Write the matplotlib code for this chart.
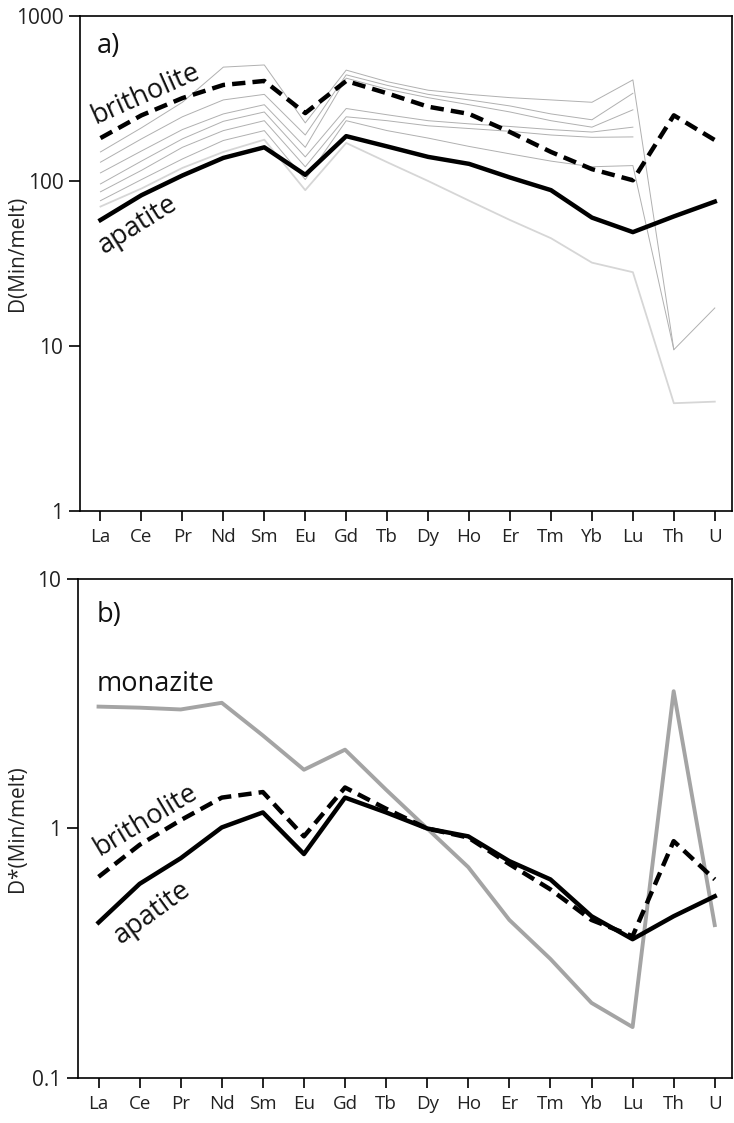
import numpy as np
import matplotlib.pyplot as plt

plt.rcParams['font.family'] = ['Open Sans', 'DejaVu Sans']

elements = ['La', 'Ce', 'Pr', 'Nd', 'Sm', 'Eu', 'Gd', 'Tb', 'Dy', 'Ho',
            'Er', 'Tm', 'Yb', 'Lu', 'Th', 'U']
nan = np.nan

# panel a) partition coefficients D(Min/melt)
apatite_a = [58, 82, 108, 138, 160, 109, 187, 162, 140, 127, 105, 88, 60, 49, 61, 75]
britholite_a = [182, 250, 318, 382, 404, 258, 404, 340, 282, 255, 198, 150, 118, 101, 250, 177]

# thin grey lines (individual experiments)
grey_a = [
    [150, 210, 300, 490, 505, 225, 470, 400, 355, 335, 320, 310, 300, 410, 9.5, 17],
    [130, 180, 245, 310, 335, 190, 440, 380, 335, 310, 285, 255, 235, 340, nan, nan],
    [112, 152, 205, 255, 290, 160, 420, 360, 320, 290, 262, 232, 212, 270, nan, nan],
    [96, 132, 180, 230, 262, 140, 275, 252, 232, 222, 214, 205, 198, 212, nan, nan],
    [86, 116, 160, 202, 232, 122, 245, 232, 216, 208, 200, 190, 184, 185, nan, nan],
    [76, 102, 136, 176, 202, 102, 232, 202, 182, 162, 146, 132, 122, 124, 9.5, nan],
]
faint_a = [70, 90, 120, 150, 178, 88, 170, 130, 100, 76, 58, 45, 32, 28, 4.5, 4.6]

# panel b) normalised D*(Min/melt)
apatite_b = [0.42, 0.60, 0.76, 1.01, 1.16, 0.79, 1.33, 1.16, 1.0, 0.93, 0.74, 0.625, 0.445, 0.36, 0.445, 0.535]
britholite_b = [0.64, 0.86, 1.08, 1.33, 1.40, 0.93, 1.46, 1.20, 1.0, 0.92, 0.72, 0.57, 0.43, 0.37, 0.89, 0.625]
monazite_b = [3.08, 3.05, 3.0, 3.19, 2.36, 1.72, 2.07, 1.43, 1.0, 0.70, 0.43, 0.30, 0.20, 0.16, 3.55, 0.41]

x = np.arange(len(elements))
W, H = 734, 1123

fig = plt.figure(figsize=(W / 100, H / 100), dpi=100)
ax1 = fig.add_axes([80 / W, 1 - 511 / H, 652 / W, 495 / H])
ax2 = fig.add_axes([78 / W, 1 - 1078 / H, 654 / W, 499 / H])

for g in grey_a:
    ax1.plot(x, g, color='#b0b0b0', lw=0.7)
ax1.plot(x, faint_a, color='#d6d6d6', lw=1.3)
ax1.plot(x, britholite_a, color='black', lw=3.2, dashes=(3, 1.6))
ax1.plot(x, apatite_a, color='black', lw=3.2)

ax2.plot(x, monazite_b, color='#a4a4a4', lw=2.8)
ax2.plot(x, britholite_b, color='black', lw=3.2, dashes=(3, 1.6))
ax2.plot(x, apatite_b, color='black', lw=3.2)

for ax in (ax1, ax2):
    ax.set_yscale('log')
    ax.set_xlim(-0.5, 15.42)
    ax.set_xticks(x)
    ax.set_xticklabels(elements)
    ax.minorticks_off()
    ax.tick_params(axis='x', direction='out', length=7, width=1.2,
                   labelsize=13.5, pad=5, labelcolor='#222222')
    ax.tick_params(axis='y', direction='out', length=8, width=1.2,
                   labelsize=15, pad=4, labelcolor='#222222')
    for s in ax.spines.values():
        s.set_linewidth(1.2)
    ax.yaxis.set_major_formatter(plt.FuncFormatter(lambda v, p: '%g' % v))

ax1.set_ylim(1, 1000)
ax1.set_yticks([1, 10, 100, 1000])
ax1.minorticks_off()
ax1.set_ylabel('D(Min/melt)', fontsize=15, color='#222222')
ax1.yaxis.set_label_coords(-0.08, 0.52)

ax2.set_ylim(0.1, 10)
ax2.set_yticks([0.1, 1, 10])
ax2.minorticks_off()
ax2.set_ylabel('D*(Min/melt)', fontsize=15, color='#222222')
ax2.yaxis.set_label_coords(-0.077, 0.5)

lab = dict(fontsize=19.5, ha='center', va='center', color='#111111')
ax1.text(0.2, 660, 'a)', **lab)
ax1.text(1.1, 335, 'britholite', rotation=24, **lab)
ax1.text(0.92, 54, 'apatite', rotation=32, **lab)

ax2.text(0.25, 7.2, 'b)', **lab)
ax2.text(1.4, 3.8, 'monazite', **lab)
ax2.text(1.15, 1.08, 'britholite', rotation=31, **lab)
ax2.text(1.3, 0.46, 'apatite', rotation=36, **lab)

fig.savefig('out.png', dpi=100)
